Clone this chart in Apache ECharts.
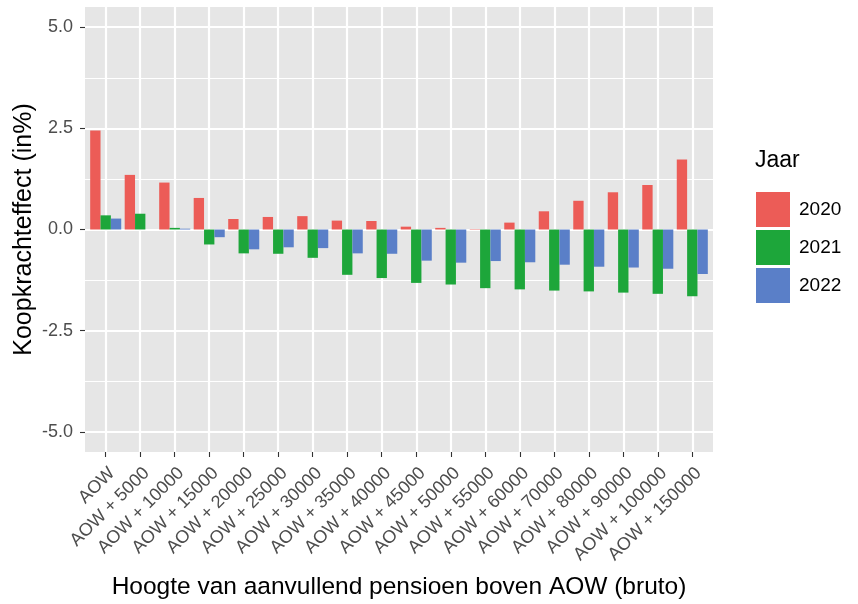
<!DOCTYPE html>
<html>
<head>
<meta charset="utf-8">
<script src="https://cdn.jsdelivr.net/npm/echarts@6/dist/echarts.min.js"></script>
<style>
html,body{margin:0;padding:0;background:#fff;}
#chart{width:858px;height:604px;}
</style>
</head>
<body>
<div id="chart"></div>
<script>
const categories = ['AOW','AOW + 5000','AOW + 10000','AOW + 15000','AOW + 20000','AOW + 25000','AOW + 30000','AOW + 35000','AOW + 40000','AOW + 45000','AOW + 50000','AOW + 55000','AOW + 60000','AOW + 70000','AOW + 80000','AOW + 90000','AOW + 100000','AOW + 150000'];
const years = ['2020','2021','2022'];
const v2020 = [2.45, 1.35, 1.16, 0.78, 0.26, 0.31, 0.33, 0.22, 0.21, 0.07, 0.04, 0.01, 0.17, 0.45, 0.71, 0.92, 1.10, 1.73];
const v2021 = [0.35, 0.39, 0.04, -0.37, -0.59, -0.60, -0.70, -1.12, -1.20, -1.32, -1.36, -1.45, -1.48, -1.51, -1.53, -1.56, -1.59, -1.65];
const v2022 = [0.27, 0.00, 0.02, -0.19, -0.49, -0.44, -0.46, -0.59, -0.60, -0.77, -0.82, -0.78, -0.81, -0.87, -0.92, -0.94, -0.97, -1.10];
const yTicks = [-5, -2.5, 0, 2.5, 5];
const yMinorTicks = [-3.75, -1.25, 1.25, 3.75];

const colors = ['#EC5C57', '#1DA63A', '#5A7FC8'];
const FONT = "'Liberation Sans', Arial, sans-serif";
const xPositions = categories.map((c, i) => i + 1);
const seriesValues = [v2020, v2021, v2022];

const chart = echarts.init(document.getElementById('chart'), null, {renderer: 'canvas'});
chart.setOption({
  animation: false,
  backgroundColor: '#ffffff',
  textStyle: {fontFamily: FONT},
  title: {
    text: 'Jaar', left: 750, top: 144,
    textStyle: {fontSize: 23, fontWeight: 'normal', color: '#000', fontFamily: FONT}
  },
  legend: {
    data: years, orient: 'vertical', left: 751, top: 187,
    icon: 'rect', itemWidth: 34, itemHeight: 35, itemGap: 3,
    textStyle: {fontSize: 19, color: '#000', fontFamily: FONT, padding: [0, 0, 0, 4]}
  },
  grid: {
    left: 85, right: 145, top: 7, bottom: 152,
    outerBoundsMode: 'none', containLabel: false,
    show: true, backgroundColor: '#E6E6E6', borderWidth: 0
  },
  xAxis: {
    type: 'value', min: 0.4, max: 18.6,
    name: 'Hoogte van aanvullend pensioen boven AOW (bruto)',
    nameLocation: 'middle', nameGap: 123, nameMoveOverlap: false,
    nameTextStyle: {fontSize: 24.5, color: '#000', fontFamily: FONT},
    axisLine: {show: false, onZero: false},
    axisTick: {show: true, length: 5, customValues: xPositions, lineStyle: {color: '#333', width: 1.1}},
    axisLabel: {
      customValues: xPositions, rotate: 45, margin: 12,
      align: 'right', verticalAlign: 'top',
      fontSize: 18, color: '#4D4D4D', fontFamily: FONT,
      formatter: v => categories[Math.round(v) - 1]
    },
    splitLine: {show: true, lineStyle: {color: '#ffffff', width: 2.2}}
  },
  yAxis: [{
    type: 'value', min: -5.5, max: 5.5,
    name: 'Koopkrachteffect (in%)', nameLocation: 'middle', nameGap: 48, nameMoveOverlap: false,
    nameTextStyle: {fontSize: 25, color: '#000', fontFamily: FONT},
    axisLine: {show: false, onZero: false},
    axisTick: {show: true, length: 5, customValues: yTicks, lineStyle: {color: '#333', width: 1.1}},
    axisLabel: {customValues: yTicks, margin: 12, fontSize: 18, color: '#4D4D4D', fontFamily: FONT,
      formatter: v => v.toFixed(1)},
    splitLine: {show: true, lineStyle: {color: '#ffffff', width: 2.2}}
  }, {
    type: 'value', min: -5.5, max: 5.5, position: 'left',
    axisLine: {show: false, onZero: false},
    axisTick: {show: false, customValues: yMinorTicks},
    axisLabel: {show: false},
    splitLine: {show: true, lineStyle: {color: '#ffffff', width: 1.1}}
  }],
  series: years.map((y, k) => ({
    name: y, type: 'bar', xAxisIndex: 0, yAxisIndex: 0,
    barWidth: 10.35, barGap: '0%',
    itemStyle: {color: colors[k]},
    data: seriesValues[k].map((v, i) => [xPositions[i], v])
  }))
});
</script>
</body>
</html>
